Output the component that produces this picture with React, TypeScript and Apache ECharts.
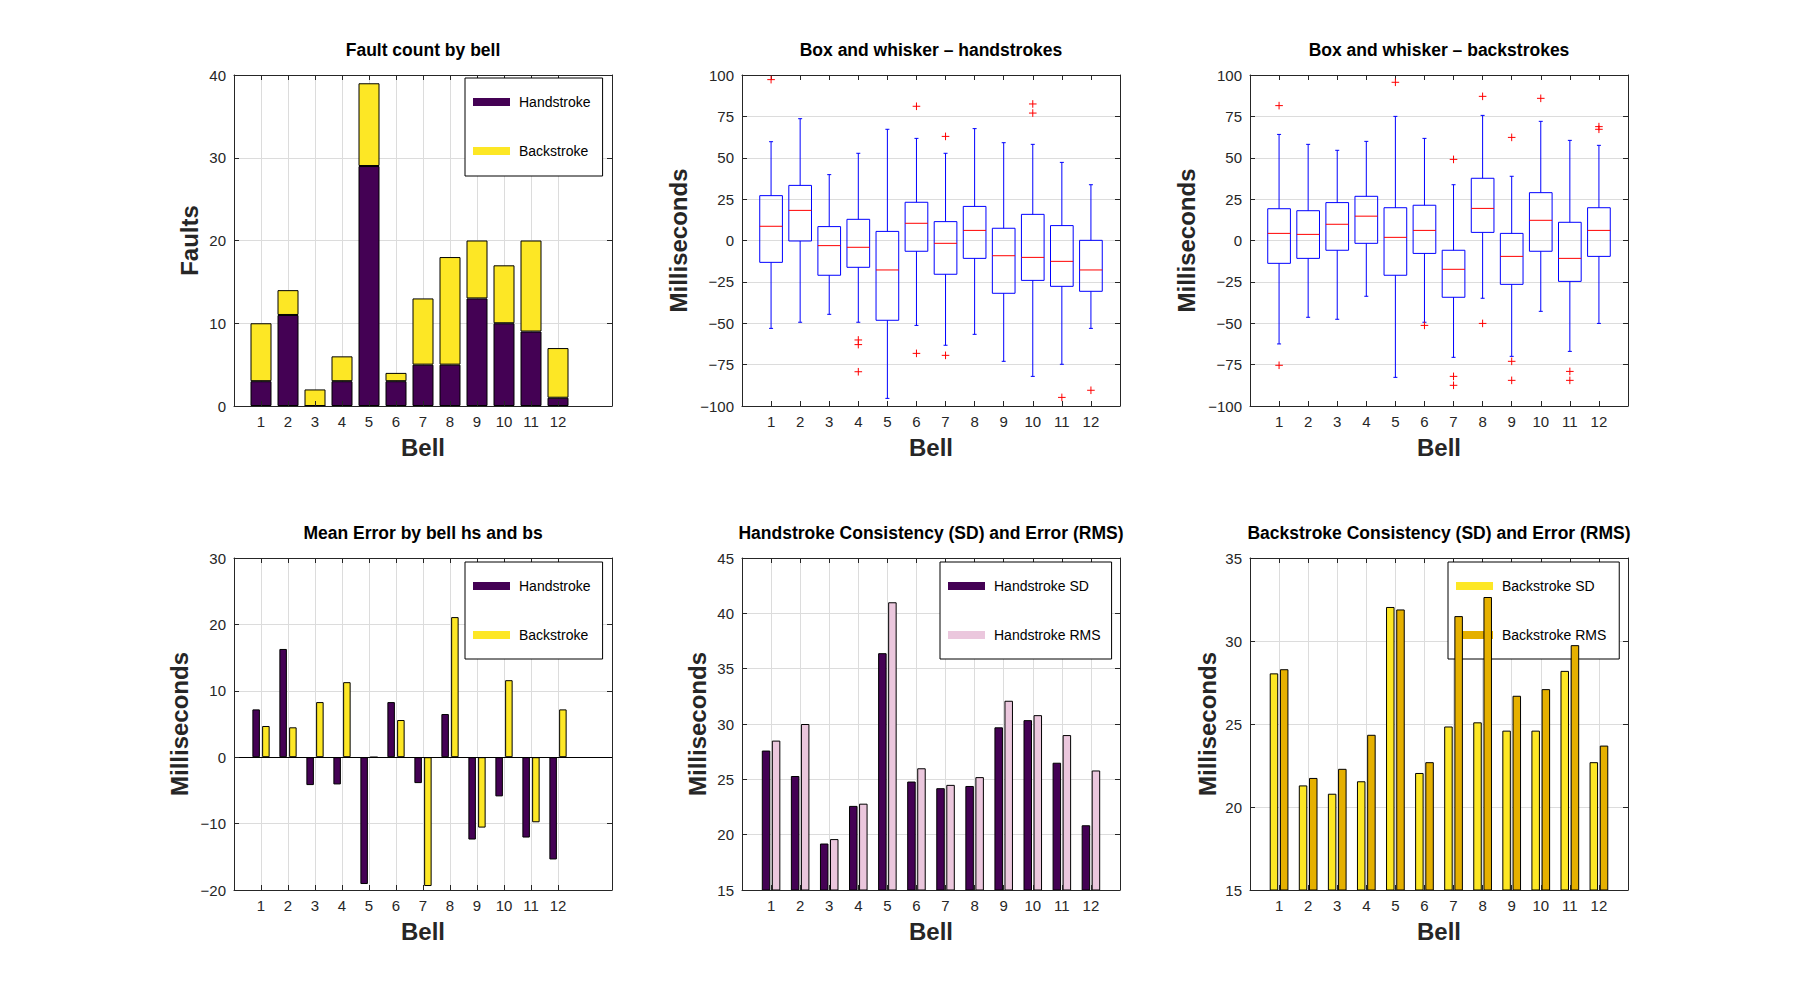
import React, { useEffect, useRef } from "react";
import * as echarts from "echarts";

// ---------- data ----------
const bells = [1, 2, 3, 4, 5, 6, 7, 8, 9, 10, 11, 12];
const bellLabels = ["1", "2", "3", "4", "5", "6", "7", "8", "9", "10", "11", "12"];

const faultHand = [3, 11, 0, 3, 29, 3, 5, 5, 13, 10, 9, 1];
const faultBack = [7, 3, 2, 3, 10, 1, 8, 13, 7, 7, 11, 6];

// [min whisker, Q1, median, Q3, max whisker]
const handBox = [
  [-53.1, -13.2, 8.6, 27.1, 59.7],
  [-49.4, -0.3, 18.2, 33.3, 73.6],
  [-44.6, -21.0, -3.1, 8.4, 39.8],
  [-49.4, -16.2, -4.1, 12.8, 52.7],
  [-95.4, -48.2, -17.8, 5.5, 67.2],
  [-51.3, -6.5, 10.4, 23.1, 61.7],
  [-63.3, -20.4, -1.7, 11.4, 52.7],
  [-56.7, -10.8, 6.1, 20.6, 67.6],
  [-73.0, -31.9, -9.2, 7.4, 59.1],
  [-82.1, -24.1, -10.2, 15.8, 58.1],
  [-74.8, -27.7, -12.6, 9.0, 47.2],
  [-53.1, -30.7, -17.8, 0.1, 33.7],
];
const handOutliers = [
  [1, 97.2], [4, -60.1], [4, -62.9], [4, -79.3], [6, 81.1], [6, -68.2],
  [7, 62.9], [7, -69.4], [10, 82.5], [10, 77.0], [11, -94.8], [12, -90.5],
];

const backBox = [
  [-62.5, -13.8, 4.3, 19.2, 64.1],
  [-46.4, -10.8, 3.7, 18.0, 58.1],
  [-47.6, -5.9, 9.8, 22.9, 54.5],
  [-33.7, -1.7, 14.7, 26.7, 59.9],
  [-82.7, -21.0, 1.9, 19.8, 75.0],
  [-49.4, -7.8, 6.1, 21.3, 61.7],
  [-70.6, -34.3, -17.4, -5.9, 33.7],
  [-34.9, 4.9, 19.4, 37.6, 75.6],
  [-70.0, -26.5, -9.6, 4.3, 38.8],
  [-42.8, -6.5, 12.2, 28.9, 72.0],
  [-67.0, -24.7, -10.8, 11.0, 60.5],
  [-50.1, -9.6, 6.1, 19.8, 57.5],
];
const backOutliers = [
  [1, 81.5], [1, -75.4], [5, 95.6], [6, -51.3], [7, 49.0], [7, -82.1], [7, -87.5],
  [8, 87.1], [8, -50.1], [9, 62.3], [9, -73.0], [9, -84.5], [10, 85.9],
  [11, -79.1], [11, -84.5], [12, 68.8], [12, 67.2],
];

const meanHand = [7.2, 16.3, -4.2, -4.1, -19.1, 8.3, -3.9, 6.5, -12.4, -5.9, -12.1, -15.4];
const meanBack = [4.7, 4.5, 8.3, 11.3, 0, 5.6, -19.4, 21.1, -10.6, 11.6, -9.8, 7.2];

const handSD = [27.6, 25.3, 19.2, 22.6, 36.4, 24.8, 24.2, 24.4, 29.7, 30.35, 26.5, 20.85];
const handRMS = [28.5, 30.0, 19.6, 22.8, 41.0, 26.0, 24.5, 25.2, 32.1, 30.8, 29.0, 25.8];

const backSD = [28.05, 21.3, 20.8, 21.55, 32.05, 22.05, 24.85, 25.1, 24.6, 24.6, 28.2, 22.7];
const backRMS = [28.3, 21.75, 22.3, 24.35, 31.9, 22.7, 31.5, 32.65, 26.7, 27.1, 29.75, 23.7];

const titles = [
  "Fault count by bell",
  "Box and whisker \u2013 handstrokes",
  "Box and whisker \u2013 backstrokes",
  "Mean Error by bell hs and bs",
  "Handstroke Consistency (SD) and Error (RMS)",
  "Backstroke Consistency (SD) and Error (RMS)",
];
const yNames = ["Faults", "Milliseconds", "Milliseconds", "Milliseconds", "Milliseconds", "Milliseconds"];
// [min, max, interval]
const yRanges = [
  [0, 40, 10],
  [-100, 100, 25],
  [-100, 100, 25],
  [-20, 30, 10],
  [15, 45, 5],
  [15, 35, 5],
];
const xMaxes = [14, 13, 13, 14, 13, 13];

// ---------- styling / layout ----------
const FONT = '"Liberation Sans", Arial, Helvetica, sans-serif';
const INK = "#262626";
const GRIDC = "#dcdcdc";
const PURPLE = "#440154";
const YELLOW = "#FDE725";
const PINK = "#EBC7DD";
const GOLD = "#E5B000";

const gridRects = [
  { left: 234, top: 75, width: 378, height: 331 },
  { left: 742, top: 75, width: 378, height: 331 },
  { left: 1250, top: 75, width: 378, height: 331 },
  { left: 234, top: 558, width: 378, height: 332 },
  { left: 742, top: 558, width: 378, height: 332 },
  { left: 1250, top: 558, width: 378, height: 332 },
];
const vGrid = [true, false, false, true, true, true];
const yNameGaps = [33, 52, 52, 43, 32.5, 31];

const minus = (v: any) => String(v).replace("-", "\u2212");

function boxRender(params: any, api: any) {
  const x = api.value(0);
  const lo = api.value(1), q1 = api.value(2), med = api.value(3), q3 = api.value(4), hi = api.value(5);
  const unit = api.size([1, 0])[0];
  const hw = unit * 0.39;
  const cw = 2;
  const cx = api.coord([x, lo])[0];
  const yLo = api.coord([x, lo])[1];
  const yQ1 = api.coord([x, q1])[1];
  const yMed = api.coord([x, med])[1];
  const yQ3 = api.coord([x, q3])[1];
  const yHi = api.coord([x, hi])[1];
  const blue = { stroke: "#0000ff", lineWidth: 1, fill: null };
  return {
    type: "group",
    children: [
      { type: "line", shape: { x1: cx, y1: yLo, x2: cx, y2: yQ1 }, style: blue },
      { type: "line", shape: { x1: cx, y1: yQ3, x2: cx, y2: yHi }, style: blue },
      { type: "line", shape: { x1: cx - cw, y1: yLo, x2: cx + cw, y2: yLo }, style: blue },
      { type: "line", shape: { x1: cx - cw, y1: yHi, x2: cx + cw, y2: yHi }, style: blue },
      { type: "rect", shape: { x: cx - hw, y: yQ3, width: 2 * hw, height: yQ1 - yQ3 }, style: { stroke: "#0000ff", lineWidth: 1, fill: "none" } },
      { type: "line", shape: { x1: cx - hw, y1: yMed, x2: cx + hw, y2: yMed }, style: { stroke: "#ff0000", lineWidth: 1 } },
    ],
  };
}

function plusRender(params: any, api: any) {
  const p = api.coord([api.value(0), api.value(1)]);
  const s = 3.8;
  const red = { stroke: "#ff0000", lineWidth: 1 };
  return {
    type: "group",
    children: [
      { type: "line", shape: { x1: p[0] - s, y1: p[1], x2: p[0] + s, y2: p[1] }, style: red },
      { type: "line", shape: { x1: p[0], y1: p[1] - s, x2: p[0], y2: p[1] + s }, style: red },
    ],
  };
}

const pairs = (vals: number[]) => bells.map((b, i) => [b, vals[i]]);
// value first, bell second: lets the stack act on the value dimension
const stackPairs = (vals: number[]) => bells.map((b, i) => [vals[i], b]);
const barStyle = (c: string) => ({ color: c, borderColor: "#000", borderWidth: 1 });

function buildOption() {
  const xAxes: any[] = [];
  const yAxes: any[] = [];
  const nameStyle = { color: INK, fontSize: 24, fontWeight: "bold", fontFamily: FONT };
  const lineSt = { show: true, onZero: false, lineStyle: { color: INK, width: 1 } };
  gridRects.forEach((g, gi) => {
    const [ymin, ymax, yint] = yRanges[gi];
    const tick = { show: true, inside: true, length: 5, customValues: bells, lineStyle: { color: INK, width: 1 } };
    xAxes.push({
      gridIndex: gi, type: "value", position: "bottom", min: 0, max: xMaxes[gi], interval: 1, z: 10,
      axisLine: lineSt, axisTick: tick,
      axisLabel: {
        show: true, customValues: bells, margin: 8, color: INK, fontSize: 15, fontFamily: FONT,
        formatter: (v: any) => bellLabels[bells.indexOf(Number(v))] ?? "",
      },
      splitLine: { show: false },
      name: "Bell", nameLocation: "middle", nameGap: 29, nameTextStyle: nameStyle,
    });
    xAxes.push({
      gridIndex: gi, type: "value", position: "top", min: 0, max: xMaxes[gi], interval: 1, z: 1,
      axisLine: lineSt, axisTick: tick, axisLabel: { show: false },
      splitLine: { show: vGrid[gi], lineStyle: { color: GRIDC, width: 1 } },
    });
    yAxes.push({
      gridIndex: gi, type: "value", position: "left", min: ymin, max: ymax, interval: yint, z: 10,
      axisLine: lineSt, axisTick: { show: true, inside: true, length: 5, lineStyle: { color: INK, width: 1 } },
      axisLabel: { show: true, margin: 8, color: INK, fontSize: 15, fontFamily: FONT, formatter: minus },
      splitLine: { show: false },
      name: yNames[gi], nameLocation: "middle", nameGap: yNameGaps[gi], nameTextStyle: nameStyle,
    });
    yAxes.push({
      gridIndex: gi, type: "value", position: "right", min: ymin, max: ymax, interval: yint, z: 1,
      axisLine: lineSt, axisTick: { show: true, inside: true, length: 5, lineStyle: { color: INK, width: 1 } },
      axisLabel: { show: false },
      splitLine: { show: true, lineStyle: { color: GRIDC, width: 1 } },
    });
  });

  const legendBase = (data: string[], left: number, top: number, padding: number[], z?: number) => ({
    data, left, top, orient: "vertical", padding, itemGap: 33, itemWidth: 37, itemHeight: 8,
    icon: "rect", selectedMode: false, itemStyle: { borderWidth: 0 },
    textStyle: { color: "#000", fontSize: 14, fontFamily: FONT, lineHeight: 16, padding: [0, 0, 0, 4] },
    borderColor: "#000", borderWidth: 1, backgroundColor: "#fff", borderRadius: 0,
    ...(z != null ? { z } : {}),
  });

  const series: any[] = [
    { type: "bar", name: "Handstroke", xAxisIndex: 0, yAxisIndex: 0, stack: "faults", barWidth: 21, encode: { x: 1, y: 0 }, data: stackPairs(faultHand), itemStyle: barStyle(PURPLE) },
    { type: "bar", name: "Backstroke", xAxisIndex: 0, yAxisIndex: 0, stack: "faults", barWidth: 21, encode: { x: 1, y: 0 }, data: stackPairs(faultBack), itemStyle: barStyle(YELLOW) },
    { type: "custom", name: "hsBox", xAxisIndex: 2, yAxisIndex: 2, renderItem: boxRender, encode: { x: 0, y: [1, 2, 3, 4, 5] }, data: bells.map((b, i) => [b, ...handBox[i]]) },
    { type: "custom", name: "hsOut", xAxisIndex: 2, yAxisIndex: 2, renderItem: plusRender, encode: { x: 0, y: 1 }, data: handOutliers },
    { type: "custom", name: "bsBox", xAxisIndex: 4, yAxisIndex: 4, renderItem: boxRender, encode: { x: 0, y: [1, 2, 3, 4, 5] }, data: bells.map((b, i) => [b, ...backBox[i]]) },
    { type: "custom", name: "bsOut", xAxisIndex: 4, yAxisIndex: 4, renderItem: plusRender, encode: { x: 0, y: 1 }, data: backOutliers },
    {
      type: "bar", name: "Handstroke", xAxisIndex: 6, yAxisIndex: 6, barWidth: 7.5, barGap: "30%", data: pairs(meanHand), itemStyle: barStyle(PURPLE),
      markLine: { silent: true, symbol: ["none", "none"], label: { show: false }, lineStyle: { color: "#000", width: 1, type: "solid" }, data: [{ yAxis: 0 }] },
    },
    { type: "bar", name: "Backstroke", xAxisIndex: 6, yAxisIndex: 6, barWidth: 7.5, barGap: "30%", data: pairs(meanBack), itemStyle: barStyle(YELLOW) },
    { type: "bar", name: "Handstroke SD", xAxisIndex: 8, yAxisIndex: 8, barWidth: 8.5, barGap: "18%", data: pairs(handSD), itemStyle: barStyle(PURPLE) },
    { type: "bar", name: "Handstroke RMS", xAxisIndex: 8, yAxisIndex: 8, barWidth: 8.5, barGap: "18%", data: pairs(handRMS), itemStyle: barStyle(PINK) },
    { type: "bar", name: "Backstroke SD", xAxisIndex: 10, yAxisIndex: 10, barWidth: 8.5, barGap: "20%", z: 6, data: pairs(backSD), itemStyle: barStyle(YELLOW) },
    { type: "bar", name: "Backstroke RMS", xAxisIndex: 10, yAxisIndex: 10, barWidth: 8.5, barGap: "20%", z: 6, data: pairs(backRMS), itemStyle: barStyle(GOLD) },
  ];

  return {
    animation: false,
    backgroundColor: "#ffffff",
    grid: gridRects.map((g) => ({ ...g, containLabel: false })),
    xAxis: xAxes,
    yAxis: yAxes,
    legend: [
      legendBase(["Handstroke", "Backstroke"], 465, 78, [16, 12, 17, 8]),
      legendBase(["Handstroke", "Backstroke"], 465, 562, [16, 12, 16, 8]),
      legendBase(["Handstroke SD", "Handstroke RMS"], 940, 562, [16, 11, 16, 8]),
      legendBase(["Backstroke SD", "Backstroke RMS"], 1448, 562, [16, 13, 16, 8], 3),
    ],
    graphic: titles.map((t, gi) => ({
      type: "text",
      silent: true,
      x: gridRects[gi].left + gridRects[gi].width / 2,
      y: gridRects[gi].top - 25.5,
      style: { text: t, fill: "#000", fontSize: 17.5, fontWeight: "bold", fontFamily: FONT, align: "center", verticalAlign: "middle" },
    })),
    series,
  };
}

export default function App() {
  const ref = useRef<HTMLDivElement>(null);
  useEffect(() => {
    document.body.style.margin = "0";
    if (!ref.current) return;
    const chart = echarts.init(ref.current, null, { renderer: "svg" });
    chart.setOption(buildOption() as any);
    return () => chart.dispose();
  }, []);
  return <div ref={ref} style={{ width: 1800, height: 1000, background: "#fff" }} />;
}
